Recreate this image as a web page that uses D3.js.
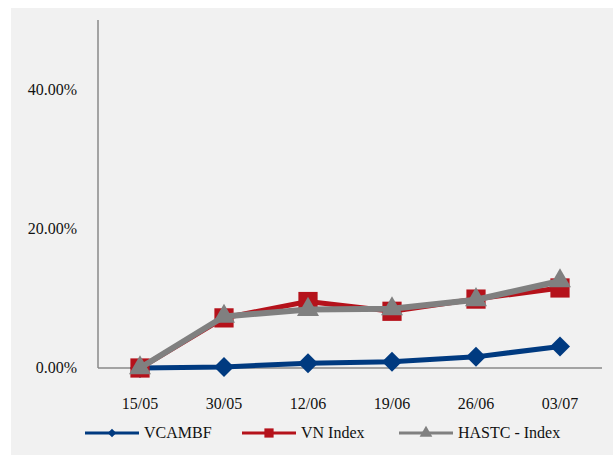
<!DOCTYPE html>
<html><head><meta charset="utf-8">
<script src="https://cdn.jsdelivr.net/npm/d3@7"></script>
<style>body{margin:0;background:#fff}svg{display:block}</style>
</head><body>
<svg id="c" width="613" height="461" font-family="Liberation Serif, Times New Roman, serif"></svg>
<script>
const categories = ["15/05","30/05","12/06","19/06","26/06","03/07"];
const vcambf = [0, 0.0015, 0.007, 0.009, 0.016, 0.031];
const vnIndex = [0, 0.072, 0.0955, 0.0815, 0.099, 0.115];
const hastc = [0, 0.074, 0.084, 0.085, 0.098, 0.125];
const yTicks = [0, 0.2, 0.4];
const seriesNames = ["VCAMBF","VN Index","HASTC - Index"];

const svg = d3.select("#c");
svg.append("rect").attr("x",11).attr("y",8).attr("width",602).attr("height",447).attr("fill","#f1f1f1");

const x = d3.scaleBand().domain(categories).range([98,602]);
const y = d3.scaleLinear().domain([0,0.5]).range([368,20]);
const cx = d => x(d) + x.bandwidth()/2;

// axes
svg.append("line").attr("x1",98).attr("x2",98).attr("y1",y(0.5)).attr("y2",y(0)).attr("stroke","#888").attr("stroke-width",1.5);
svg.append("line").attr("x1",98).attr("x2",602).attr("y1",y(0)).attr("y2",y(0)).attr("stroke","#888").attr("stroke-width",1.5);

svg.selectAll(".yt").data(yTicks).enter().append("text")
  .attr("x",77).attr("y",d=>y(d)+5).attr("text-anchor","end")
  .attr("font-size",16).attr("fill","#111").text(d=>d3.format(".2%")(d));
svg.selectAll(".xt").data(categories).enter().append("text")
  .attr("x",d=>cx(d)).attr("y",409).attr("text-anchor","middle")
  .attr("font-size",16).attr("fill","#111").text(d=>d);

const series = [
  {name:seriesNames[0], vals:vcambf, color:"#003a80", sym:d3.symbolSquare, rot:45, size:200, lw:5, lsize:36},
  {name:seriesNames[1], vals:vnIndex, color:"#b5121b", sym:d3.symbolSquare, rot:0, size:370, lw:5, lsize:85},
  {name:seriesNames[2], vals:hastc, color:"#808080", sym:d3.symbolTriangle, rot:0, size:210, lw:6, lsize:70}
];
const line = d3.line().x((d,i)=>cx(categories[i])).y(d=>y(d));
series.forEach(s=>{
  svg.append("path").attr("d",line(s.vals)).attr("fill","none").attr("stroke",s.color).attr("stroke-width",s.lw).attr("stroke-linejoin","round");
  svg.selectAll(null).data(s.vals).enter().append("path")
    .attr("transform",(d,i)=>`translate(${cx(categories[i])},${y(d)}) rotate(${s.rot})`)
    .attr("d",d3.symbol().type(s.sym).size(s.size)).attr("fill",s.color);
});

// legend
const lx = [85,242,399];
series.forEach((s,i)=>{
  const g = svg.append("g").attr("transform",`translate(${lx[i]},433)`);
  g.append("line").attr("x1",0).attr("x2",54).attr("stroke",s.color).attr("stroke-width",3);
  g.append("path").attr("transform",`translate(27,0) rotate(${s.rot})`).attr("d",d3.symbol().type(s.sym).size(s.lsize)).attr("fill",s.color);
  g.append("text").attr("x",59).attr("y",5).attr("font-size",16).attr("fill","#111").text(s.name);
});
</script>
</body></html>
